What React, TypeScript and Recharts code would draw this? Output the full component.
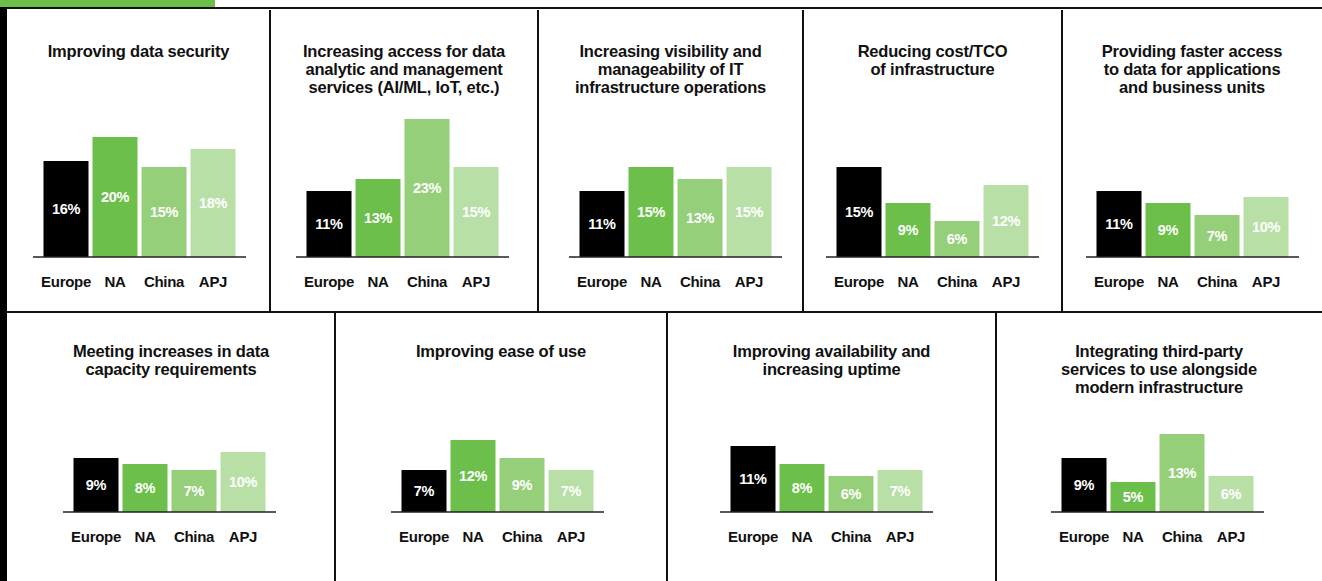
import React from 'react'
import { BarChart, Bar, XAxis, YAxis, Cell, LabelList } from 'recharts'

const regions = ['Europe', 'NA', 'China', 'APJ']
const regionColors = ['#000000', '#6cbf4a', '#96cf7a', '#b8dfa6']

const titles = [
  ['Improving data security'],
  ['Increasing access for data', 'analytic and management', 'services (AI/ML, IoT, etc.)'],
  ['Increasing visibility and', 'manageability of IT', 'infrastructure operations'],
  ['Reducing cost/TCO', 'of infrastructure'],
  ['Providing faster access', 'to data for applications', 'and business units'],
  ['Meeting increases in data', 'capacity requirements'],
  ['Improving ease of use'],
  ['Improving availability and', 'increasing uptime'],
  ['Integrating third-party', 'services to use alongside', 'modern infrastructure'],
]

// percent of respondents per region, same order as regions
const securityValues = [16, 20, 15, 18]
const analyticsValues = [11, 13, 23, 15]
const visibilityValues = [11, 15, 13, 15]
const costValues = [15, 9, 6, 12]
const fasterAccessValues = [11, 9, 7, 10]
const capacityValues = [9, 8, 7, 10]
const easeOfUseValues = [7, 12, 9, 7]
const availabilityValues = [11, 8, 6, 7]
const thirdPartyValues = [9, 5, 13, 6]

const seriesValues = [
  securityValues,
  analyticsValues,
  visibilityValues,
  costValues,
  fasterAccessValues,
  capacityValues,
  easeOfUseValues,
  availabilityValues,
  thirdPartyValues,
]

// panel boxes: [left, right, chart x, row]
const panels = [
  [7, 270, 33, 0],
  [270, 538, 296, 0],
  [538, 803, 569, 0],
  [803, 1062, 826, 0],
  [1062, 1322, 1086, 0],
  [7, 335, 63, 1],
  [335, 667, 391, 1],
  [667, 996, 720, 1],
  [996, 1322, 1051, 1],
]

const FONT = '"Liberation Sans", Arial, Helvetica, sans-serif'
const PLOT_H = 150
const MAX_PCT = 25
const rowBaseline = [257, 512]
const rowTitleTop = [42, 342]

function Panel({ index }: { index: number }) {
  const [left, right, chartX, row] = panels[index]
  const data = regions.map((r, i) => ({ region: r, value: seriesValues[index][i] }))
  const top = rowBaseline[row] - PLOT_H

  return (
    <>
      <div
        style={{
          position: 'absolute',
          left,
          top: rowTitleTop[row],
          width: right - left,
          textAlign: 'center',
          fontFamily: FONT,
          fontWeight: 700,
          fontSize: 16.5,
          lineHeight: '18px',
          color: '#111',
          letterSpacing: -0.2,
          zIndex: 2,
        }}
      >
        {titles[index].map((line, i) => (
          <div key={i}>{line}</div>
        ))}
      </div>
      <div style={{ position: 'absolute', left: chartX, top }}>
        <BarChart
          width={213}
          height={PLOT_H + 40}
          data={data}
          margin={{ top: 0, right: 0, bottom: 0, left: 0 }}
          barSize={45}
        >
          <YAxis hide domain={[0, MAX_PCT]} />
          <XAxis
            dataKey="region"
            height={40}
            padding={{ left: 8.5, right: 8.5 }}
            axisLine={{ stroke: '#222', strokeWidth: 1.5 }}
            tickLine={false}
            tickSize={0}
            tickMargin={19}
            interval={0}
            tick={{ fill: '#111', fontSize: 15, fontWeight: 700, fontFamily: FONT, letterSpacing: -0.3 }}
          />
          <Bar dataKey="value" isAnimationActive={false}>
            {data.map((d, i) => (
              <Cell key={d.region} fill={regionColors[i]} />
            ))}
            <LabelList
              dataKey="value"
              position="center"
              formatter={(v: any) => `${v}%`}
              style={{ fill: '#fff', fontSize: 14.5, fontWeight: 700, fontFamily: FONT, letterSpacing: -0.3 }}
            />
          </Bar>
        </BarChart>
      </div>
    </>
  )
}

export default function App() {
  const line = (l: number, t: number, w: number, h: number, bg = '#111') => (
    <div style={{ position: 'absolute', left: l, top: t, width: w, height: h, background: bg }} />
  )

  return (
    <div style={{ position: 'absolute', left: 0, top: 0, width: 1322, height: 581, background: '#fff', overflow: 'hidden' }}>
      {/* frame: side strip, green tab and grid rules */}
      {line(0, 0, 7, 581, '#000')}
      {line(0, 0, 215, 7, '#6cbf4a')}
      {line(7, 7, 1315, 2)}
      {line(7, 311, 1315, 2)}
      {[270, 538, 803, 1062].map((x) => (
        <React.Fragment key={x}>{line(x - 1, 10, 2, 302)}</React.Fragment>
      ))}
      {[335, 667, 996].map((x) => (
        <React.Fragment key={x}>{line(x - 1, 312, 2, 269)}</React.Fragment>
      ))}
      {panels.map((_, i) => (
        <Panel key={i} index={i} />
      ))}
    </div>
  )
}
